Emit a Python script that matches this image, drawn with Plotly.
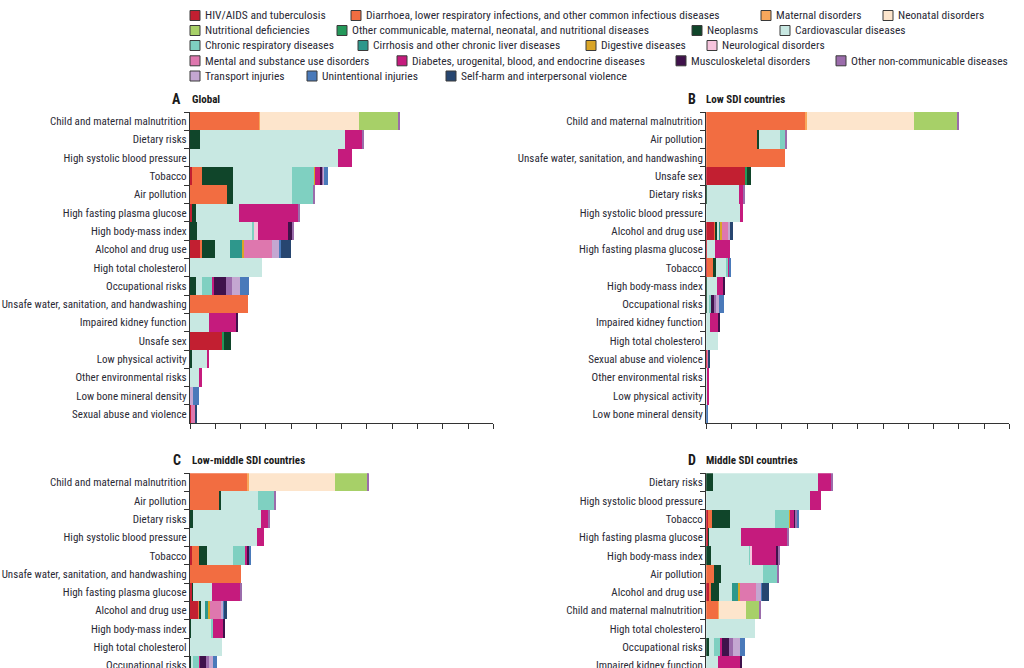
import plotly.graph_objects as go

# ---------------- data ----------------
CAUSES = [
    "HIV/AIDS and tuberculosis",
    "Diarrhoea, lower respiratory infections, and other common infectious diseases",
    "Maternal disorders",
    "Neonatal disorders",
    "Nutritional deficiencies",
    "Other communicable, maternal, neonatal, and nutritional diseases",
    "Neoplasms",
    "Cardiovascular diseases",
    "Chronic respiratory diseases",
    "Cirrhosis and other chronic liver diseases",
    "Digestive diseases",
    "Neurological disorders",
    "Mental and substance use disorders",
    "Diabetes, urogenital, blood, and endocrine diseases",
    "Musculoskeletal disorders",
    "Other non-communicable diseases",
    "Transport injuries",
    "Unintentional injuries",
    "Self-harm and interpersonal violence",
]
KEYS = ["HIV", "DIA", "MAT", "NEOD", "NUT", "OCM", "NEO", "CVD", "CRD", "CIR",
        "DIG", "NEU", "MEN", "DIAB", "MSK", "ONC", "TRA", "UNI", "SH"]
COLORS = ["#c21f31", "#f26d41", "#f8a75c", "#fde5cc", "#a7d068", "#24985a",
          "#10452a", "#c8e8e2", "#7fd0c1", "#2e978c", "#d9a528", "#f6c4dd",
          "#de77ae", "#c51b7d", "#3f124b", "#9b6cab", "#c4a7d1", "#4a7aba",
          "#274670"]

global_cats = [
    "Child and maternal malnutrition", "Dietary risks", "High systolic blood pressure",
    "Tobacco", "Air pollution", "High fasting plasma glucose", "High body-mass index",
    "Alcohol and drug use", "High total cholesterol", "Occupational risks",
    "Unsafe water, sanitation, and handwashing", "Impaired kidney function",
    "Unsafe sex", "Low physical activity", "Other environmental risks",
    "Low bone mineral density", "Sexual abuse and violence",
]
global_vals = [
    {"DIA": 2.74, "MAT": 0.03, "NEOD": 3.90, "NUT": 1.59, "ONC": 0.04},
    {"NEO": 0.40, "CVD": 5.74, "DIAB": 0.68, "ONC": 0.04},
    {"CVD": 5.87, "DIAB": 0.55},
    {"HIV": 0.09, "DIA": 0.37, "NEO": 1.25, "CVD": 2.31, "CRD": 0.89, "DIG": 0.05,
     "DIAB": 0.20, "MSK": 0.07, "ONC": 0.05, "TRA": 0.03, "UNI": 0.13},
    {"DIA": 1.47, "NEO": 0.24, "CVD": 2.33, "CRD": 0.83, "ONC": 0.05},
    {"HIV": 0.08, "NEO": 0.15, "CVD": 1.70, "DIAB": 2.37, "ONC": 0.04},
    {"NEO": 0.29, "CVD": 2.18, "CRD": 0.08, "NEU": 0.13, "DIAB": 1.19, "MSK": 0.17, "ONC": 0.04},
    {"HIV": 0.40, "DIA": 0.08, "NEO": 0.50, "CVD": 0.62, "CIR": 0.45, "DIG": 0.08,
     "MEN": 1.13, "TRA": 0.29, "UNI": 0.05, "SH": 0.40},
    {"CVD": 2.84},
    {"NEO": 0.23, "CVD": 0.24, "CRD": 0.41, "DIAB": 0.07, "MSK": 0.47, "ONC": 0.24,
     "TRA": 0.33, "UNI": 0.33},
    {"DIA": 2.31},
    {"CVD": 0.75, "DIAB": 1.07, "MSK": 0.04},
    {"HIV": 1.29, "OCM": 0.07, "NEO": 0.28},
    {"NEO": 0.08, "CVD": 0.58, "DIAB": 0.09},
    {"CVD": 0.36, "DIAB": 0.11},
    {"TRA": 0.10, "UNI": 0.24},
    {"HIV": 0.04, "MEN": 0.15, "SH": 0.08},
]

low_cats = [
    "Child and maternal malnutrition", "Air pollution",
    "Unsafe water, sanitation, and handwashing", "Unsafe sex", "Dietary risks",
    "High systolic blood pressure", "Alcohol and drug use", "High fasting plasma glucose",
    "Tobacco", "High body-mass index", "Occupational risks", "Impaired kidney function",
    "High total cholesterol", "Sexual abuse and violence", "Other environmental risks",
    "Low physical activity", "Low bone mineral density",
]
low_vals = [
    {"DIA": 3.95, "MAT": 0.06, "NEOD": 4.24, "NUT": 1.72, "ONC": 0.04},
    {"DIA": 2.04, "NEO": 0.05, "CVD": 0.84, "CRD": 0.20, "ONC": 0.07},
    {"DIA": 3.12},
    {"HIV": 1.55, "OCM": 0.07, "NEO": 0.17},
    {"NEO": 0.04, "CVD": 1.25, "DIAB": 0.19, "ONC": 0.04},
    {"CVD": 1.33, "DIAB": 0.15},
    {"HIV": 0.33, "DIA": 0.04, "NEO": 0.05, "CVD": 0.08, "CIR": 0.09, "DIG": 0.03,
     "MEN": 0.26, "TRA": 0.08, "SH": 0.10},
    {"HIV": 0.05, "CVD": 0.31, "DIAB": 0.60},
    {"HIV": 0.03, "DIA": 0.26, "NEO": 0.09, "CVD": 0.40, "CRD": 0.12, "DIAB": 0.04, "UNI": 0.06},
    {"NEO": 0.02, "CVD": 0.43, "DIAB": 0.25, "MSK": 0.06},
    {"NEO": 0.05, "CVD": 0.07, "CRD": 0.07, "MSK": 0.14, "ONC": 0.07, "TRA": 0.13, "UNI": 0.20},
    {"CVD": 0.16, "DIAB": 0.33, "MSK": 0.04},
    {"CVD": 0.47},
    {"HIV": 0.06, "MEN": 0.04, "SH": 0.05},
    {"CVD": 0.04, "DIAB": 0.07},
    {"CVD": 0.06, "DIAB": 0.04},
    {"UNI": 0.08},
]

lowmid_cats = [
    "Child and maternal malnutrition", "Air pollution", "Dietary risks",
    "High systolic blood pressure", "Tobacco", "Unsafe water, sanitation, and handwashing",
    "High fasting plasma glucose", "Alcohol and drug use", "High body-mass index",
    "High total cholesterol", "Occupational risks",
]
lowmid_vals = [
    {"DIA": 2.27, "MAT": 0.05, "NEOD": 3.41, "NUT": 1.31, "ONC": 0.05},
    {"DIA": 1.13, "NEO": 0.11, "CVD": 1.45, "CRD": 0.67, "ONC": 0.06},
    {"NEO": 0.13, "CVD": 2.68, "DIAB": 0.29, "ONC": 0.05},
    {"CVD": 2.64, "DIAB": 0.29},
    {"HIV": 0.09, "DIA": 0.25, "NEO": 0.34, "CVD": 1.03, "CRD": 0.47, "DIAB": 0.11,
     "MSK": 0.03, "UNI": 0.10},
    {"DIA": 2.02},
    {"HIV": 0.10, "NEO": 0.03, "CVD": 0.76, "DIAB": 1.10, "ONC": 0.03},
    {"HIV": 0.32, "DIA": 0.04, "NEO": 0.09, "CVD": 0.13, "CIR": 0.17, "DIG": 0.05,
     "MEN": 0.41, "TRA": 0.10, "UNI": 0.03, "SH": 0.13},
    {"NEO": 0.05, "CVD": 0.82, "CRD": 0.05, "DIAB": 0.40, "MSK": 0.08},
    {"CVD": 1.28},
    {"NEO": 0.05, "CVD": 0.05, "CRD": 0.26, "DIAB": 0.03, "MSK": 0.26, "ONC": 0.10,
     "TRA": 0.16, "UNI": 0.17},
]

mid_cats = [
    "Dietary risks", "High systolic blood pressure", "Tobacco", "High fasting plasma glucose",
    "High body-mass index", "Air pollution", "Alcohol and drug use",
    "Child and maternal malnutrition", "High total cholesterol", "Occupational risks",
    "Impaired kidney function",
]
mid_vals = [
    {"NEO": 0.29, "CVD": 4.13, "DIAB": 0.53, "ONC": 0.05},
    {"CVD": 4.11, "DIAB": 0.43},
    {"HIV": 0.08, "DIA": 0.16, "NEO": 0.71, "CVD": 1.78, "CRD": 0.57, "DIG": 0.03,
     "DIAB": 0.18, "MSK": 0.05, "ONC": 0.06, "UNI": 0.08},
    {"HIV": 0.08, "NEO": 0.05, "CVD": 1.25, "DIAB": 1.83, "ONC": 0.04},
    {"NEO": 0.18, "CVD": 1.53, "CRD": 0.05, "NEU": 0.08, "DIAB": 0.92, "MSK": 0.11, "ONC": 0.06},
    {"DIA": 0.32, "NEO": 0.28, "CVD": 1.67, "CRD": 0.55, "ONC": 0.05},
    {"HIV": 0.13, "DIA": 0.05, "NEO": 0.34, "CVD": 0.51, "CIR": 0.25, "DIG": 0.05,
     "MEN": 0.63, "TRA": 0.24, "UNI": 0.03, "SH": 0.26},
    {"DIA": 0.49, "MAT": 0.02, "NEOD": 1.07, "NUT": 0.53, "ONC": 0.04},
    {"CVD": 1.94},
    {"NEO": 0.12, "CVD": 0.18, "CRD": 0.29, "DIAB": 0.04, "MSK": 0.29, "ONC": 0.16,
     "TRA": 0.26, "UNI": 0.22},
    {"CVD": 0.49, "DIAB": 0.86, "MSK": 0.04},
]

panel_letters = ["A", "B", "C", "D"]
panel_titles = ["Global", "Low SDI countries", "Low-middle SDI countries", "Middle SDI countries"]

# ---------------- layout helpers ----------------
W, H = 1024, 668
FONT = "Liberation Sans Narrow, Arial Narrow, Roboto Condensed, Liberation Sans, Arial, sans-serif"
TXT = "#2a2a35"
AX = "#333333"

def px(x):
    return x / W

def py(y):
    return 1 - y / H

panels = [
    (global_cats, global_vals),
    (low_cats, low_vals),
    (lowmid_cats, lowmid_vals),
    (mid_cats, mid_vals),
]
xdom = [(px(190), px(493.3)), (px(706.2), px(1009.3))]
row_h = (423.3 - 112) / 17
ydom_top = (py(423.3), py(112))
ydom_bot = (0.0, py(473.3))
bot_rows = (H - 473.3) / row_h

fig = go.Figure()

for p, (cats, vals) in enumerate(panels):
    xa = "x" if p == 0 else f"x{p+1}"
    ya = "y" if p == 0 else f"y{p+1}"
    for k, key in enumerate(KEYS):
        xs = [row.get(key, 0) for row in vals]
        fig.add_trace(go.Bar(
            x=xs, y=cats, orientation="h", name=CAUSES[k],
            marker=dict(color=COLORS[k], line=dict(width=0)),
            xaxis=xa, yaxis=ya, showlegend=False,
            hovertemplate="%{y}<br>" + CAUSES[k] + ": %{x}<extra></extra>",
        ))

layout_axes = {}
for p, (cats, vals) in enumerate(panels):
    xkey = "xaxis" if p == 0 else f"xaxis{p+1}"
    ykey = "yaxis" if p == 0 else f"yaxis{p+1}"
    xd = xdom[p % 2]
    top = p < 2
    layout_axes[xkey] = dict(
        domain=list(xd), range=[0, 12], dtick=1, tick0=0,
        anchor="y" if p == 0 else f"y{p+1}",
        showgrid=False, zeroline=False, showticklabels=False,
        showline=top, linecolor=AX, linewidth=1.3,
        ticks="outside" if top else "", ticklen=5, tickcolor=AX, tickwidth=1.3,
        fixedrange=True,
    )
    if top:
        rng = [len(cats) - 0.5, -0.5]
        yd = ydom_top
    else:
        rng = [-0.5 + bot_rows, -0.5]
        yd = ydom_bot
    layout_axes[ykey] = dict(
        domain=list(yd), type="category", categoryorder="array", categoryarray=cats,
        range=rng, anchor="x" if p == 0 else f"x{p+1}",
        showgrid=False, zeroline=False, showline=True, linecolor=AX, linewidth=1.3,
        ticks="outside", tickson="boundaries", ticklen=5, tickcolor=AX, tickwidth=1.3,
        tickfont=dict(family=FONT, size=11, color=TXT), automargin=False,
        fixedrange=True,
    )

annotations = []
shapes = []

# panel titles
title_pos = [(183, 99.5), (697.5, 99.5), (183, 460), (697.5, 460)]
for p in range(4):
    tx, ty = title_pos[p]
    annotations.append(dict(
        x=px(tx), y=py(ty), xref="paper", yref="paper", xanchor="right", yanchor="middle",
        text="<b>" + panel_letters[p] + "</b>", showarrow=False,
        font=dict(family=FONT, size=14, color="#1a1a1a"),
    ))
    annotations.append(dict(
        x=px(tx + 6.5), y=py(ty), xref="paper", yref="paper", xanchor="left", yanchor="middle",
        text="<b>" + panel_titles[p] + "</b>", showarrow=False,
        font=dict(family=FONT, size=11, color="#1a1a1a"),
    ))

# legend (drawn as squares + text)
legend_rows = [[0, 1, 2, 3], [4, 5, 6, 7], [8, 9, 10, 11], [12, 13, 14, 15], [16, 17, 18]]
legend_row_y = [15.5, 30.5, 45.5, 60.8, 76.0]
legend_item_x = [[190, 351, 761, 883], [190, 337, 692, 780], [190, 358, 586, 707],
                 [190, 397, 676, 836], [190, 307, 446]]
SQ = 10
for r, items in enumerate(legend_rows):
    yc = legend_row_y[r]
    for j, ci in enumerate(items):
        x0 = legend_item_x[r][j]
        shapes.append(dict(
            type="rect", xref="paper", yref="paper",
            x0=px(x0), x1=px(x0 + SQ), y0=py(yc + SQ / 2), y1=py(yc - SQ / 2),
            fillcolor=COLORS[ci], line=dict(color="#3a3a3a", width=1),
        ))
        annotations.append(dict(
            x=px(x0 + SQ + 3), y=py(yc), xref="paper", yref="paper",
            xanchor="left", yanchor="middle", text=CAUSES[ci], showarrow=False,
            font=dict(family=FONT, size=11.5, color=TXT),
        ))

fig.update_layout(
    width=W, height=H, margin=dict(l=0, r=0, t=0, b=0, pad=0),
    barmode="stack", bargap=0,
    plot_bgcolor="white", paper_bgcolor="white",
    showlegend=False, annotations=annotations, shapes=shapes,
    **layout_axes,
)

fig.write_html(
    "out.html",
    config={"displayModeBar": False},
    post_script="document.body.style.margin='0';document.body.style.overflow='hidden';",
)
